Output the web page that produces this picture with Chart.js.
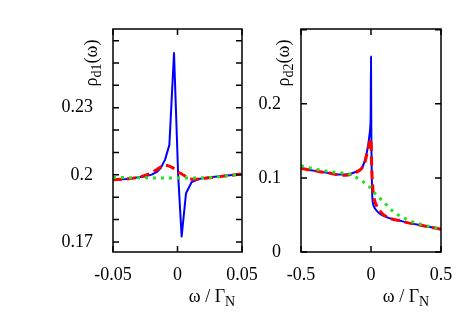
<!DOCTYPE html>
<html><head><meta charset="utf-8">
<script src="https://cdn.jsdelivr.net/npm/chart.js@4"></script>
<style>
html,body{margin:0;padding:0;background:#fff;}
#wrap{position:relative;width:463px;height:324px;overflow:hidden;background:#fff;}
canvas{position:absolute;left:0;top:0;}
.t{position:absolute;font-family:"Liberation Serif","Times New Roman",serif;font-size:18px;color:#000;white-space:nowrap;line-height:1;}
.t sub{font-size:14px;vertical-align:baseline;position:relative;top:4px;}
.rot{transform:translate(-50%,-50%) rotate(-90deg);}
.hz{transform:translate(-50%,-50%);}
</style></head><body>
<div id="wrap">
<canvas id="c1" width="463" height="324" style="width:463px;height:324px"></canvas>
<canvas id="c2" width="463" height="324" style="width:463px;height:324px"></canvas>
<div class="t rot" style="left:91px;top:63px">ρ<sub>d1</sub>(ω)</div>
<div class="t rot" style="left:283px;top:63px">ρ<sub>d2</sub>(ω)</div>
<div class="t hz" style="left:212px;top:296px">ω / Γ<sub>N</sub></div>
<div class="t hz" style="left:406px;top:296px">ω / Γ<sub>N</sub></div>
</div>
<script>
// ---- Left panel data (rho_d1) ----
const L_BLUE_X = [-0.05,-0.04,-0.029,-0.025,-0.02,-0.016,-0.013,-0.0097,-0.0063,-0.0027,0.0005,0.0032,0.0066,0.011,0.0174,0.025,0.035,0.05];
const L_BLUE_Y = [0.1978,0.1981,0.1990,0.1994,0.2001,0.2013,0.2030,0.2067,0.2134,0.2545,0.2000,0.1724,0.1918,0.1968,0.1983,0.1989,0.1995,0.2004];
const L_RED_X  = [-0.05,-0.04,-0.03,-0.024,-0.02,-0.016,-0.012,-0.0097,-0.007,-0.0033,0.0004,0.0032,0.0065,0.0097,0.014,0.02,0.03,0.04,0.05];
const L_RED_Y  = [0.1978,0.1981,0.1989,0.2000,0.2010,0.2024,0.2038,0.2043,0.2040,0.2030,0.2012,0.2004,0.1992,0.1981,0.1980,0.1983,0.1990,0.1997,0.2004];
const L_GREEN_X = [-0.05,-0.03,-0.01,0.0,0.01,0.015,0.02,0.03,0.04,0.05];
const L_GREEN_Y = [0.1988,0.1987,0.1986,0.1986,0.1986,0.1986,0.1987,0.1991,0.1997,0.2004];
const L_X_TICKS = [-0.05,0,0.05];
const L_X_LABELS = ['-0.05','0','0.05'];
const L_Y_TICKS = [0.17,0.18,0.19,0.2,0.21,0.22,0.23,0.24,0.25,0.26];
const L_Y_LABELS = ['0.17','','','0.2','','','0.23','','',''];

// ---- Right panel data (rho_d2) ----
const R_BLUE_X = [-0.5,-0.4,-0.3,-0.234,-0.18,-0.14,-0.1,-0.066,-0.043,-0.026,-0.012,-0.005,-0.002,0,0.002,0.005,0.008,0.012,0.02,0.035,0.06,0.1,0.15,0.2,0.25,0.374,0.5];
const R_BLUE_Y = [0.113,0.1095,0.1065,0.1045,0.1045,0.106,0.109,0.113,0.124,0.138,0.156,0.17,0.19,0.264,0.17,0.11,0.08,0.068,0.062,0.057,0.052,0.048,0.0445,0.0425,0.040,0.0355,0.0307];
const R_RED_X  = [-0.5,-0.4,-0.3,-0.234,-0.18,-0.14,-0.1,-0.066,-0.045,-0.031,-0.014,-0.005,-0.002,0.002,0.005,0.01,0.014,0.025,0.048,0.08,0.1,0.15,0.2,0.25,0.374,0.5];
const R_RED_Y  = [0.113,0.1095,0.1065,0.104,0.1035,0.105,0.108,0.113,0.120,0.131,0.145,0.150,0.153,0.140,0.115,0.095,0.084,0.070,0.060,0.052,0.049,0.0445,0.0425,0.040,0.0355,0.0307];
const R_GREEN_X = [-0.5,-0.4,-0.293,-0.2,-0.15,-0.1,-0.066,-0.024,0.029,0.088,0.16,0.255,0.374,0.5];
const R_GREEN_Y = [0.1165,0.112,0.1085,0.1065,0.105,0.100,0.096,0.0905,0.079,0.068,0.0545,0.044,0.0365,0.031];
const R_X_TICKS = [-0.5,0,0.5];
const R_X_LABELS = ['-0.5','0','0.5'];
const R_Y_TICKS = [0,0.1,0.2,0.3];
const R_Y_LABELS = ['0','0.1','0.2',''];

const pts = (xs, ys) => xs.map((x, i) => ({x, y: ys[i]}));
const FONT = {family: '"Liberation Serif","Times New Roman",serif', size: 18};

const framePlugin = {
  id: 'frame',
  afterDatasetsDraw(chart) {
    const {ctx, chartArea: a, scales: {x, y}} = chart;
    const L = 6;
    ctx.save();
    ctx.strokeStyle = '#000';
    ctx.lineWidth = 1.5;
    ctx.beginPath();
    x.ticks.forEach(t => {
      const px = x.getPixelForValue(t.value);
      ctx.moveTo(px, a.bottom); ctx.lineTo(px, a.bottom - L);
      ctx.moveTo(px, a.top); ctx.lineTo(px, a.top + L);
    });
    y.ticks.forEach(t => {
      const py = y.getPixelForValue(t.value);
      ctx.moveTo(a.left, py); ctx.lineTo(a.left + L, py);
      ctx.moveTo(a.right, py); ctx.lineTo(a.right - L, py);
    });
    ctx.stroke();
    ctx.strokeRect(a.left, a.top, a.right - a.left, a.bottom - a.top);
    ctx.restore();
  }
};

function makeChart(id, d, pad, blueSmooth) {
  const ds = (data, color, w, dash, order, smooth) => ({
    data, borderColor: color, borderWidth: w, borderDash: dash, borderCapStyle: 'butt',
    borderJoinStyle: 'round',
    pointRadius: 0, fill: false, tension: 0,
    cubicInterpolationMode: smooth ? 'monotone' : 'default', order
  });
  return new Chart(document.getElementById(id), {
    type: 'line',
    data: {datasets: [
      ds(pts(d.bx, d.by), '#0000ff', 2, [], 2, blueSmooth),
      ds(pts(d.rx, d.ry), '#ff0000', 3, [9, 5], 1, true),
      ds(pts(d.gx, d.gy), '#22e022', 3, [3, 5], 0, true)
    ]},
    options: {
      responsive: false, animation: false,
      layout: {padding: pad},
      plugins: {legend: {display: false}, tooltip: {enabled: false}},
      scales: {
        x: {
          type: 'linear', min: d.xmin, max: d.xmax,
          grid: {display: false}, border: {display: false},
          afterBuildTicks: s => { s.ticks = d.xt.map(v => ({value: v})); },
          afterFit: s => { s.height = 40; },
          ticks: {padding: 4, color: '#000', font: FONT, maxRotation: 0, autoSkip: false,
                  callback: (v, i) => d.xl[i]}
        },
        y: {
          type: 'linear', min: d.ymin, max: d.ymax,
          grid: {display: false}, border: {display: false},
          afterBuildTicks: s => { s.ticks = d.yt.map(v => ({value: v})); },
          afterFit: s => { s.width = 60; },
          ticks: {padding: 12, color: '#000', font: FONT, autoSkip: false,
                  callback: (v, i) => d.yl[i]}
        }
      }
    },
    plugins: [framePlugin]
  });
}

makeChart('c1', {
  bx: L_BLUE_X, by: L_BLUE_Y, rx: L_RED_X, ry: L_RED_Y, gx: L_GREEN_X, gy: L_GREEN_Y,
  xmin: -0.05, xmax: 0.05, ymin: 0.1655, ymax: 0.2652,
  xt: L_X_TICKS, xl: L_X_LABELS, yt: L_Y_TICKS, yl: L_Y_LABELS
}, {left: 53, right: 221, top: 29, bottom: 32}, false);

makeChart('c2', {
  bx: R_BLUE_X, by: R_BLUE_Y, rx: R_RED_X, ry: R_RED_Y, gx: R_GREEN_X, gy: R_GREEN_Y,
  xmin: -0.5, xmax: 0.5, ymin: 0, ymax: 0.301,
  xt: R_X_TICKS, xl: R_X_LABELS, yt: R_Y_TICKS, yl: R_Y_LABELS
}, {left: 241, right: 22, top: 29, bottom: 32}, true);
</script>
</body></html>
